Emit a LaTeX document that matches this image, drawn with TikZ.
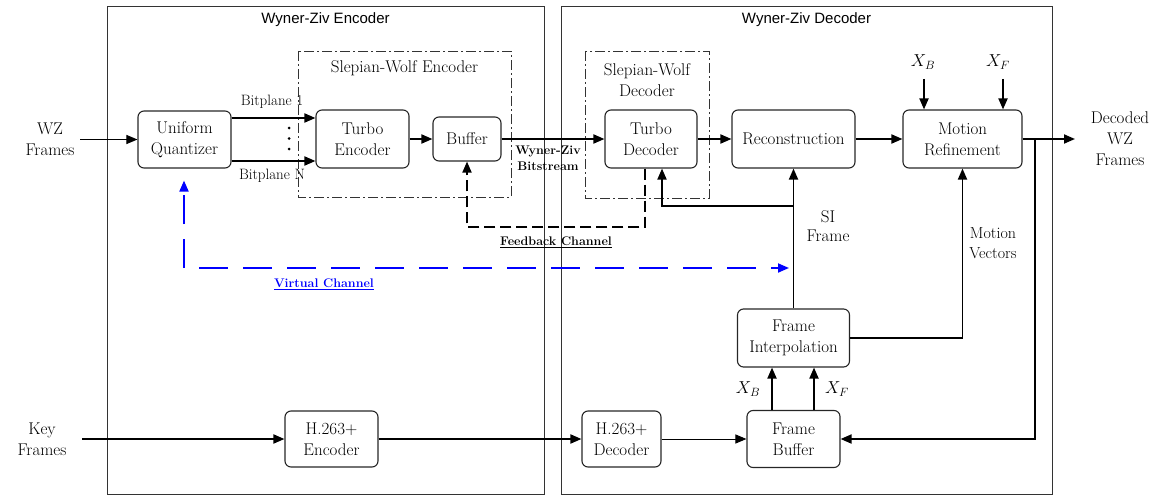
\documentclass[tikz,border=0pt]{standalone}
\usepackage{fontspec}
\newfontfamily\titlefont{Liberation Sans}
\usetikzlibrary{arrows.meta,calc}

\begin{document}
\begin{tikzpicture}[x=1pt,y=-1pt,
  blk/.style={draw=black!85, line width=1.1pt, rounded corners=6pt, align=center,
              inner sep=0pt, font=\fontsize{17}{21}\selectfont},
  outer/.style={draw=black!80, line width=0.9pt},
  swbox/.style={draw=black!80, line width=0.9pt, dash pattern=on 10pt off 3pt on 2pt off 3pt},
  txt/.style={align=center, inner sep=0pt, font=\fontsize{17}{21}\selectfont},
  small/.style={align=center, inner sep=0pt, font=\fontsize{15}{20}\selectfont},
  boldlab/.style={align=center, inner sep=0pt, font=\fontsize{12.5}{16}\selectfont\bfseries},
  title/.style={inner sep=0pt, font=\titlefont\fontsize{15}{18}\selectfont},
  tip/.style={-{Triangle[length=11pt,width=9pt]}},
  arr/.style={tip, line width=1.8pt},
  tarr/.style={tip, line width=1pt},
  fbline/.style={tip, line width=1.8pt, dash pattern=on 11pt off 5pt},
  vline/.style={draw=blue, line width=1.8pt, dash pattern=on 29pt off 15pt},
]
\useasboundingbox (0,0) rectangle (1162,495);

% encoder / decoder frames
\draw[outer] (107,6) rectangle (544,494);
\draw[outer] (561,6) rectangle (1052,494);
\node[title] (enct) at (325.5,20) {Wyner-Ziv Encoder};
\node[title] (dect) at (806.5,20) {Wyner-Ziv Decoder};

% Slepian-Wolf groups
\draw[swbox] (298,51) rectangle (511,197);
\node[txt] (swet) at (404.5,68) {Slepian-Wolf Encoder};
\draw[swbox] (585,51) rectangle (709,198);
\node[txt] (swdt) at (647,80) {Slepian-Wolf\\Decoder};

% processing blocks
\node[blk, minimum width=93pt, minimum height=57pt] (quant) at (184.5,139.5) {Uniform\\Quantizer};
\node[blk, minimum width=93pt, minimum height=58pt] (tenc) at (362.5,139) {Turbo\\Encoder};
\node[blk, minimum width=68pt, minimum height=44pt] (buf) at (467,139) {Buffer};
\node[blk, minimum width=92pt, minimum height=58pt] (tdec) at (651,139) {Turbo\\Decoder};
\node[blk, minimum width=123pt, minimum height=58pt] (recon) at (793.5,139) {Reconstruction};
\node[blk, minimum width=119pt, minimum height=58pt] (mref) at (962.5,139) {Motion\\Refinement};
\node[blk, minimum width=112pt, minimum height=58pt] (finterp) at (793.5,338) {Frame\\Interpolation};
\node[blk, minimum width=93pt, minimum height=57pt] (fbuf) at (793.5,439) {Frame\\Buffer};
\node[blk, minimum width=79pt, minimum height=56pt] (hdec) at (621.5,439) {H.263+\\Decoder};
\node[blk, minimum width=93pt, minimum height=56pt] (henc) at (331.5,439) {H.263+\\Encoder};

% inputs and outputs
\node[txt] (wzin) at (50,139) {WZ\\Frames};
\node[txt] (keyin) at (42,439) {Key\\Frames};
\node[txt] (wzout) at (1120,139) {Decoded\\WZ\\Frames};
\coordinate (wzs) at (80,139.5);
\coordinate (keys) at (82,439);
\coordinate (outend) at (1075,139);
\coordinate (fbj) at (1035,139);

\draw[tarr] (wzs) -- (quant.west);
\draw[arr] (keys) -- (henc.west);

% bitplanes
\coordinate (b1) at ($(quant.east)+(0,-21.5)$);
\coordinate (bn) at ($(quant.east)+(0,21.5)$);
\draw[arr] (b1) -- (b1 -| tenc.west);
\draw[arr] (bn) -- (bn -| tenc.west);
\fill (289,128) circle (1.5pt) (289,138.5) circle (1.5pt) (289,149) circle (1.5pt);
\node[small] (bp1) at (272,102) {Bitplane 1};
\node[small] (bpn) at (272,176) {Bitplane N};

% main chain
\draw[arr] (tenc.east) -- (buf.west);
\draw[arr] (buf.east) -- (tdec.west);
\node[boldlab] (bits) at (548,158) {Wyner-Ziv\\Bitstream};
\draw[arr] (tdec.east) -- (recon.west);
\draw[arr] (recon.east) -- (mref.west);
\draw[arr] (mref.east) -- (outend);
\draw[arr] (fbj) |- (fbuf.east);

% feedback channel
\coordinate (fbs) at ($(tdec.south)+(-6,0)$);
\coordinate (fbc) at (467,227);
\draw[fbline] (fbs) |- (fbc) -- (buf.south);
\node[boldlab] (fbt) at (556,242) {\underline{Feedback Channel}};

% side information
\draw[arr] (finterp.north) -- (recon.south);
\coordinate (sij) at (793.5,206);
\draw[arr] (sij) -| ($(tdec.south)+(11,0)$);
\node[txt, font=\fontsize{17}{19}\selectfont] (sit) at (828,226.5) {SI\\Frame};

% motion vectors
\draw[arr] (finterp.east) -| (mref.south);
\node[small, font=\fontsize{16}{20}\selectfont] (mvt) at (993,243) {Motion\\Vectors};

% reference frames into motion refinement
\coordinate (xbt) at (924,79);
\coordinate (xft) at (1003,79);
\node[txt] (xbl) at (923,62) {$X_B$};
\node[txt] (xfl) at (998,62) {$X_F$};
\draw[arr] (xbt) -- (xbt |- mref.north);
\draw[arr] (xft) -- (xft |- mref.north);

% frame buffer to interpolation
\draw[arr] ($(fbuf.north)+(-21.5,0)$) -- ($(finterp.south)+(-21.5,0)$);
\draw[arr] ($(fbuf.north)+(20.5,0)$) -- ($(finterp.south)+(20.5,0)$);
\node[txt] (xbl2) at (748,389) {$X_B$};
\node[txt] (xfl2) at (837,389) {$X_F$};

% key frame path
\draw[arr] (henc.east) -- (hdec.west);
\draw[tarr] (hdec.east) -- (fbuf.west);

% virtual channel
\coordinate (vcc) at (184,268);
\coordinate (vce) at (789,268);
\draw[vline, tip, blue] (vcc) -- ($(quant.south)+(-0.5,12)$);
\draw[vline, tip, blue, dash phase=29pt] (vcc) -- (vce);
\node[boldlab, text=blue] (vct) at (324,284) {\underline{Virtual Channel}};
\end{tikzpicture}
\end{document}
